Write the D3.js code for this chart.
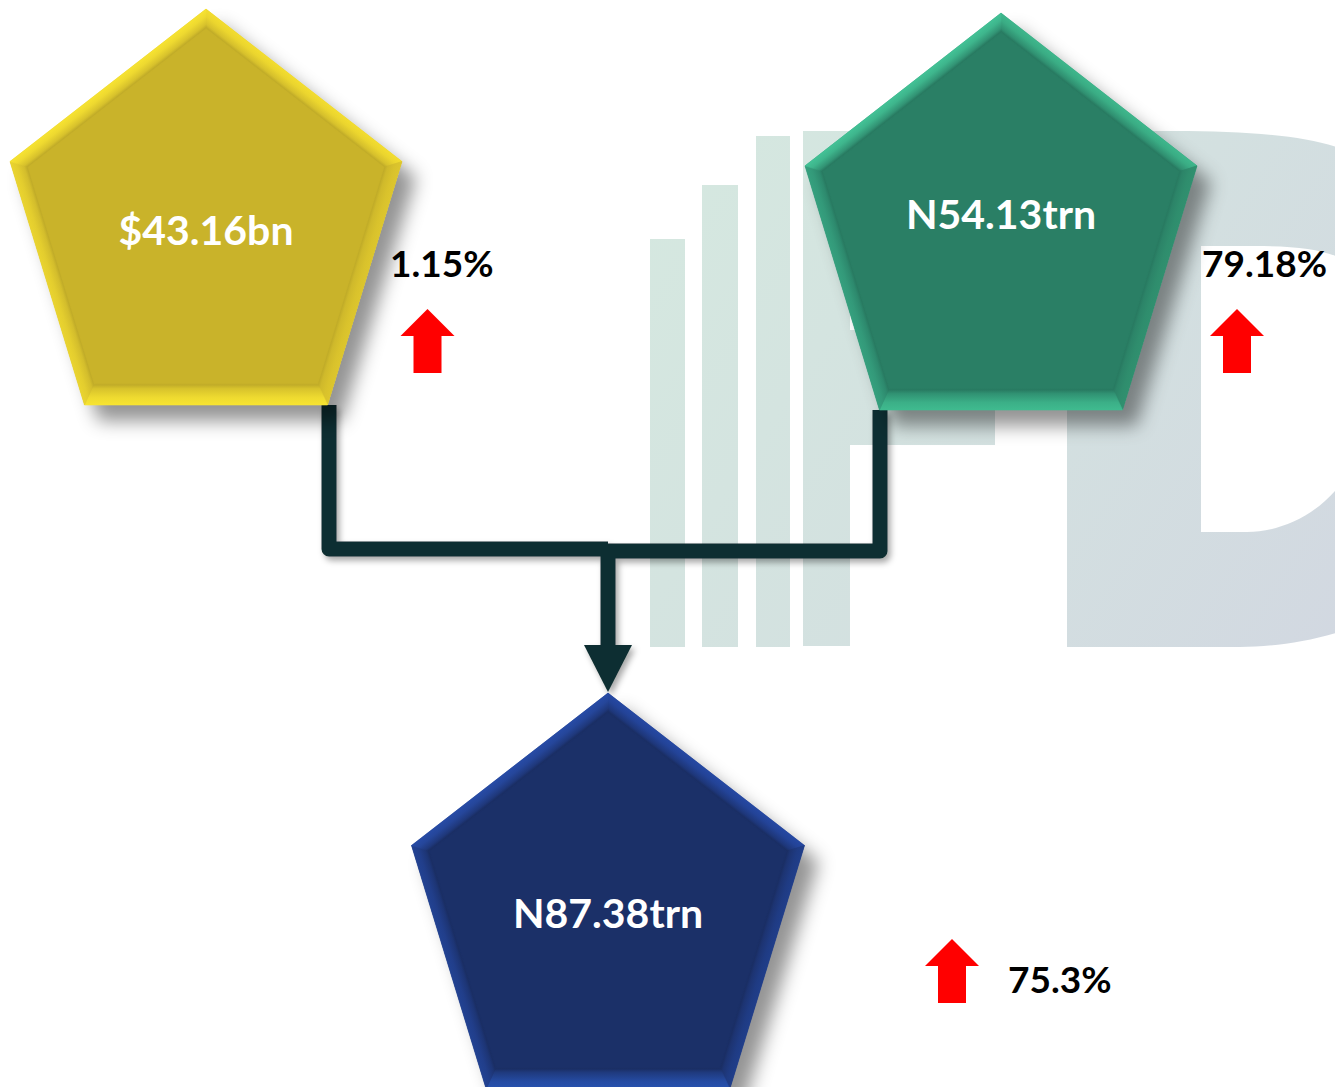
<!DOCTYPE html>
<html>
<head>
<meta charset="utf-8">
<script src="https://cdn.jsdelivr.net/npm/d3@7"></script>
<style>
  html, body { margin: 0; padding: 0; background: #ffffff; overflow: hidden; }
  svg { display: block; }
</style>
</head>
<body>
<svg id="chart" width="1335" height="1087"></svg>
<script>
// ---- data -------------------------------------------------------------
const nodeIds      = ["left", "right", "total"];
const nodePrefixes = ["$", "N", "N"];
const nodeValues   = [43.16, 54.13, 87.38];
const nodeUnits    = ["bn", "trn", "trn"];
const nodeChanges  = [1.15, 79.18, 75.3];   // percent change, all up

// ---- style ------------------------------------------------------------
const bodyColors = ["#c9b32a", "#2a7f65", "#1b3068"];
// bevel highlight per edge: top-right, right, bottom, left, top-left
const bevelColors = [
  ["#f3dd2f", "#ddc62d", "#f7e431", "#ead42f", "#f7e331"],
  ["#3eb78c", "#30906f", "#3fbb8f", "#35a07e", "#43c296"],
  ["#2548a3", "#203e8a", "#2752b0", "#224292", "#274ba6"]
];
const bevelDepth = [16, 16, 22, 16, 16];

// ---- layout (pixel positions of each block) ---------------------------
const layout = {
  left:  { cx: 206,  top: 9,   w: 392, h: 396, labelY: 245, pctX: 390,  pctY: 277, arrX: 427.5, arrY: 309 },
  right: { cx: 1001, top: 13,  w: 392, h: 397, labelY: 229, pctX: 1202, pctY: 277, arrX: 1237,  arrY: 309 },
  total: { cx: 608,  top: 693, w: 393, h: 396, labelY: 928, pctX: 1008, pctY: 993, arrX: 952,   arrY: 939 }
};

const svg  = d3.select("#chart");
const defs = svg.append("defs");
const color = d3.scaleOrdinal().domain(nodeIds).range(bodyColors);

// soft drop shadows
const sh = defs.append("filter").attr("id", "shadow")
  .attr("x", "-20%").attr("y", "-20%").attr("width", "150%").attr("height", "150%");
sh.append("feDropShadow").attr("dx", 14).attr("dy", 16)
  .attr("stdDeviation", 9).attr("flood-color", "#000").attr("flood-opacity", 0.42);
const sh2 = defs.append("filter").attr("id", "lineShadow")
  .attr("x", "-20%").attr("y", "-20%").attr("width", "140%").attr("height", "140%");
sh2.append("feDropShadow").attr("dx", 3).attr("dy", 4)
  .attr("stdDeviation", 3).attr("flood-color", "#000").attr("flood-opacity", 0.35);

// ---- background logo --------------------------------------------------
const wm = defs.append("linearGradient").attr("id", "wmGrad")
  .attr("gradientUnits", "userSpaceOnUse")
  .attr("x1", 640).attr("y1", 200).attr("x2", 1335).attr("y2", 650);
wm.append("stop").attr("offset", 0).attr("stop-color", "#d5e8e0");
wm.append("stop").attr("offset", 0.55).attr("stop-color", "#d3e0e0");
wm.append("stop").attr("offset", 1).attr("stop-color", "#d2d8e1");

const logo = svg.append("g").attr("class", "logo").attr("fill", "url(#wmGrad)");
const logoBars = [[650, 685, 239], [702, 738, 185], [756, 790, 136]];
logo.selectAll("rect").data(logoBars).join("rect")
  .attr("x", d => d[0]).attr("y", d => d[2])
  .attr("width", d => d[1] - d[0]).attr("height", d => 647 - d[2]);
// "P"
logo.append("path").attr("fill-rule", "evenodd")
  .attr("d", "M803,131 H955 Q995,131 995,171 V445 H850 V646 H803 Z " +
             "M850,232 V330 H955 V232 Z");
// "D"
logo.append("path").attr("fill-rule", "evenodd")
  .attr("d", "M1067,131 H1175 C1250,131 1310,136 1345,150 V630 C1310,642 1270,647 1240,647 H1067 Z " +
             "M1201,246 H1255 C1300,246 1325,250 1345,260 V478 C1320,515 1280,532 1247,532 H1201 Z");

// ---- connectors -------------------------------------------------------
const lineColor = "#112f30";
const conn = svg.append("g").attr("filter", "url(#lineShadow)");
const joinY = 549;
const paths = [
  [[329, 405], [329, joinY], [608, joinY]],
  [[880, 410], [880, joinY + 2], [608, joinY + 2]],
  [[608, joinY], [608, 650]]
];
conn.selectAll("path.seg").data(paths).join("path").attr("class", "seg")
  .attr("d", d3.line())
  .attr("fill", "none").attr("stroke", lineColor).attr("stroke-width", 15)
  .attr("stroke-linejoin", "round").attr("stroke-linecap", "butt");
conn.append("path")
  .attr("d", d3.line()([[584, 645], [632, 645], [608, 692]]) + "Z")
  .attr("fill", lineColor);

// ---- pentagons --------------------------------------------------------
function pentagon(o) {
  const { cx, top, w, h } = o;
  return [
    [cx, top],
    [cx + w / 2, top + 0.385 * h],
    [cx + 0.31 * w, top + h],
    [cx - 0.31 * w, top + h],
    [cx - w / 2, top + 0.385 * h]
  ];
}
function edgeNormal(a, b) {
  const dx = b[0] - a[0], dy = b[1] - a[1], L = Math.hypot(dx, dy);
  return [-dy / L, dx / L];   // points into the shape (clockwise order, y down)
}
function insetPoly(pts, depths) {
  const n = pts.length;
  const lines = pts.map((a, i) => {
    const b = pts[(i + 1) % n];
    const [nx, ny] = edgeNormal(a, b);
    return { p: [a[0] + nx * depths[i], a[1] + ny * depths[i]], r: [b[0] - a[0], b[1] - a[1]] };
  });
  const cross = (u, v) => u[0] * v[1] - u[1] * v[0];
  return pts.map((_, i) => {
    const A = lines[(i - 1 + n) % n], B = lines[i];
    const q = [B.p[0] - A.p[0], B.p[1] - A.p[1]];
    const t = cross(q, B.r) / cross(A.r, B.r);
    return [A.p[0] + A.r[0] * t, A.p[1] + A.r[1] * t];
  });
}

const nodes = nodeIds.map((id, i) => ({
  id, i,
  label: nodePrefixes[i] + d3.format(".2f")(nodeValues[i]) + nodeUnits[i],
  change: nodeChanges[i],
  ...layout[id]
}));

const shape = svg.selectAll("g.node").data(nodes).join("g").attr("class", "node");

shape.each(function (d) {
  const g = d3.select(this);
  const outer = pentagon(d);
  const inner = insetPoly(outer, bevelDepth);
  const body = color(d.id);
  const bodySoft = d3.color(body).darker(0.12).formatHex();

  g.append("path").attr("d", d3.line()(outer) + "Z")
    .attr("fill", body).attr("filter", "url(#shadow)");

  outer.forEach((a, k) => {
    const b = outer[(k + 1) % 5], ia = inner[k], ib = inner[(k + 1) % 5];
    const gid = `bev-${d.id}-${k}`;
    const [nx, ny] = edgeNormal(a, b);
    const m0 = [(a[0] + b[0]) / 2, (a[1] + b[1]) / 2];
    const m1 = [m0[0] + nx * bevelDepth[k], m0[1] + ny * bevelDepth[k]];
    const gr = defs.append("linearGradient").attr("id", gid)
      .attr("gradientUnits", "userSpaceOnUse")
      .attr("x1", m0[0]).attr("y1", m0[1]).attr("x2", m1[0]).attr("y2", m1[1]);
    const hi = bevelColors[d.i][k];
    gr.append("stop").attr("offset", 0).attr("stop-color", hi);
    gr.append("stop").attr("offset", 0.35).attr("stop-color", d3.interpolateRgb(hi, body)(0.2));
    gr.append("stop").attr("offset", 0.75).attr("stop-color", d3.interpolateRgb(hi, body)(0.7));
    gr.append("stop").attr("offset", 0.92).attr("stop-color", bodySoft);
    gr.append("stop").attr("offset", 1).attr("stop-color", body);
    g.append("path").attr("d", d3.line()([a, b, ib, ia]) + "Z")
      .attr("fill", `url(#${gid})`)
      .attr("stroke", `url(#${gid})`).attr("stroke-width", 0.6);
  });

  g.append("path").attr("d", d3.line()(inner) + "Z").attr("fill", body);

  g.append("text")
    .attr("x", d.cx).attr("y", d.labelY)
    .attr("text-anchor", "middle")
    .attr("font-family", "Lato, 'Open Sans', sans-serif")
    .attr("font-weight", 700).attr("font-size", 41)
    .attr("fill", "#ffffff")
    .text(d.label);
});

// ---- change indicators ------------------------------------------------
function upArrow(cx, top) {
  const p = d3.path();
  p.moveTo(cx, top);
  p.lineTo(cx + 27, top + 27);
  p.lineTo(cx + 14, top + 27);
  p.lineTo(cx + 14, top + 64);
  p.lineTo(cx - 14, top + 64);
  p.lineTo(cx - 14, top + 27);
  p.lineTo(cx - 27, top + 27);
  p.closePath();
  return p.toString();
}

const ind = svg.selectAll("g.change").data(nodes).join("g").attr("class", "change");
ind.append("path").attr("d", d => upArrow(d.arrX, d.arrY)).attr("fill", "#ff0000");
ind.append("text")
  .attr("x", d => d.pctX).attr("y", d => d.pctY)
  .attr("font-family", "Lato, 'Open Sans', sans-serif")
  .attr("font-weight", 700).attr("font-size", 37)
  .attr("fill", "#000000")
  .text(d => d.change + "%");
</script>
</body>
</html>
